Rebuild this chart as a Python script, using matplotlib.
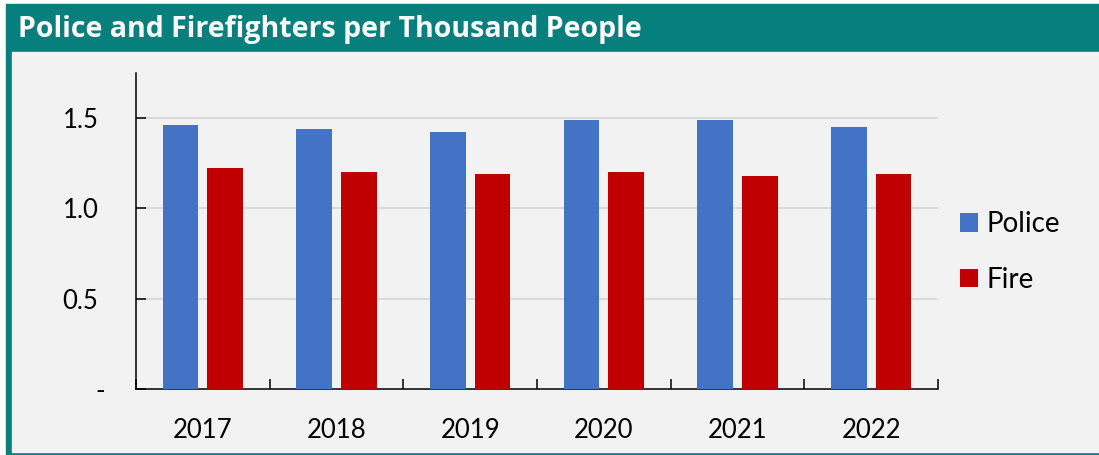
import matplotlib

matplotlib.use("Agg")
import matplotlib.pyplot as plt  # noqa: E402
import matplotlib.transforms as mtransforms  # noqa: E402
from matplotlib.patches import Rectangle  # noqa: E402

# data
years = ["2017", "2018", "2019", "2020", "2021", "2022"]
police = [1.46, 1.44, 1.42, 1.49, 1.49, 1.45]
fire = [1.22, 1.20, 1.19, 1.20, 1.18, 1.19]
y_ticks = [0, 0.5, 1.0, 1.5]
y_labels = ["-", "0.5", "1.0", "1.5"]

TEAL = "#077f7d"
PANEL = "#f2f2f2"
BLUE = "#4472c4"
RED = "#c00000"

plt.rcParams["font.family"] = ["Lato", "DejaVu Sans"]

W, H = 1099, 455
fig = plt.figure(figsize=(W / 100, H / 100), dpi=100)
fig.patch.set_facecolor("white")

# frame: teal box with title strip, grey panel inside
fig.patches.append(Rectangle((6 / W, 0), (W - 6) / W, (H - 4) / H,
                             transform=fig.transFigure, color=TEAL, zorder=-3))
fig.patches.append(Rectangle((12 / W, 3 / H), (W - 12) / W, 400 / H,
                             transform=fig.transFigure, color=PANEL, zorder=-2))
fig.text(18 / W, 1 - 30 / H, "Police and Firefighters per Thousand People",
         color="white", fontsize=20.5, fontweight="bold", va="center", ha="left",
         family=["Open Sans", "DejaVu Sans"])

ax = fig.add_axes([136 / W, 1 - 389 / H, (938 - 136) / W, (389 - 72.7) / H])
ax.set_facecolor("none")

x = range(len(years))
bw = 0.267
ax.bar([i - 0.166 for i in x], police, width=bw, color=BLUE, label="Police", zorder=3)
ax.bar([i + 0.166 for i in x], fire, width=bw, color=RED, label="Fire", zorder=3)

ax.set_xlim(-0.5, len(years) - 0.5)
ax.set_ylim(0, 1.75)

ax.set_yticks(y_ticks)
ax.set_yticklabels(y_labels)
ax.set_xticks([i - 0.5 for i in range(len(years) + 1)])
ax.set_xticklabels([])
ax.set_xticks(list(x), minor=True)
ax.set_xticklabels(years, minor=True)

ax.tick_params(axis="y", direction="in", length=7, width=1.1, pad=27, labelsize=18.5)
ax.tick_params(axis="x", which="major", direction="in", length=7, width=1.1)
ax.tick_params(axis="x", which="minor", length=0, pad=21, labelsize=18.5)

for s in ["top", "right"]:
    ax.spines[s].set_visible(False)
for s in ["left", "bottom"]:
    ax.spines[s].set_linewidth(1.1)
    ax.spines[s].set_color("black")

for v in y_ticks[1:]:
    ax.axhline(v, color="#d9d9d9", linewidth=1.4, zorder=1)

# the "-" zero label sits a little further right (accounting format)
dash = ax.get_yticklabels()[0]
dash.set_transform(dash.get_transform()
                   + mtransforms.ScaledTranslation(5 / 72, 0, fig.dpi_scale_trans))

ax.legend(loc="center left", bbox_to_anchor=(960 / W, 1 - 252 / H),
          bbox_transform=fig.transFigure, frameon=False, fontsize=20,
          handlelength=0.65, handleheight=0.65, handletextpad=0.32,
          labelspacing=1.05, borderpad=0, borderaxespad=0)

fig.savefig("out.png", dpi=100)
